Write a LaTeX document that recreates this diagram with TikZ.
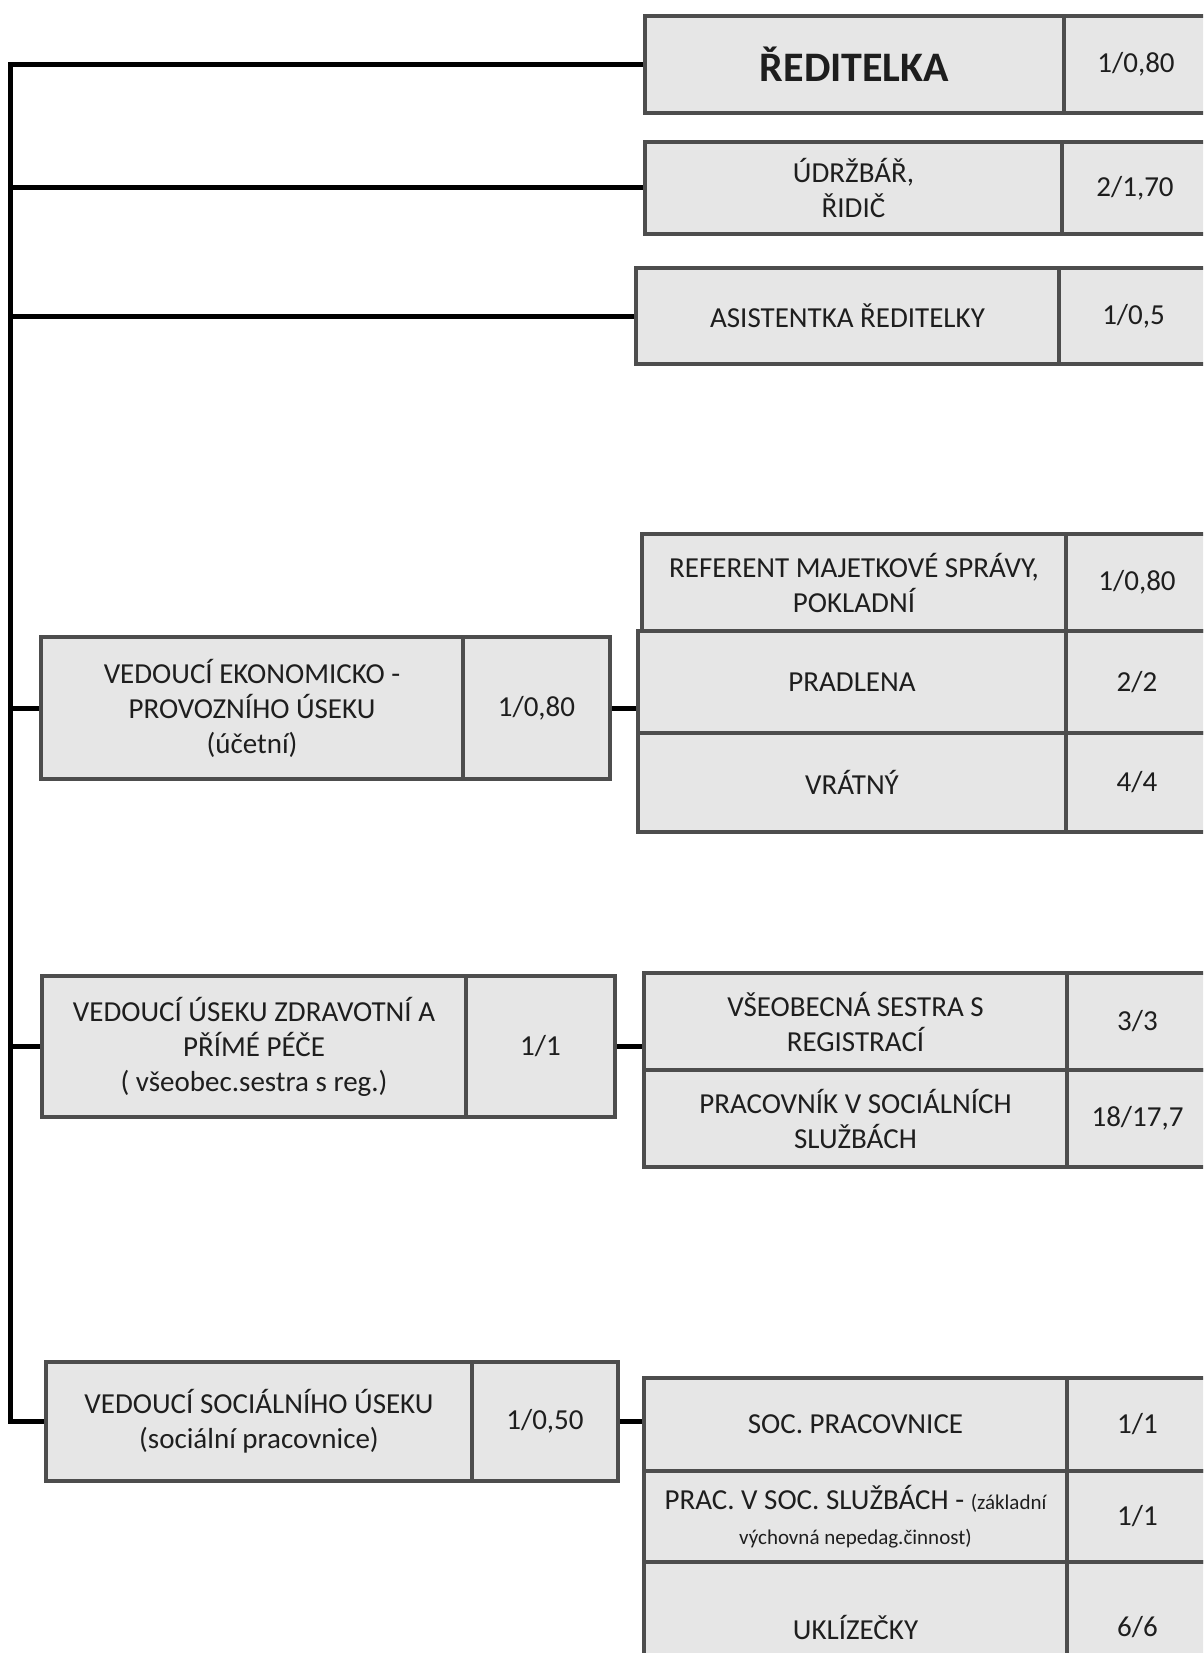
\documentclass[tikz,border=0pt]{standalone}
\usepackage{fontspec}
\setmainfont{Carlito}
\definecolor{boxfill}{HTML}{E6E6E6}
\definecolor{boxline}{HTML}{4D4D4D}
\definecolor{txt}{HTML}{1E1E1E}
\newcommand\cellbox[7][]{\node[cell,#1,minimum width={#4-#2},minimum height={#5-#3}] (#6) at (#2,#3) {#7};}
\newcommand\smalltxt{\fontsize{21}{33}\selectfont}
\begin{document}
\begin{tikzpicture}[x=1pt,y=-1pt,
  cell/.style={draw=boxline,fill=boxfill,line width=4pt,inner sep=0pt,anchor=north west,
    align=center,text=txt,font=\fontsize{29}{35}\selectfont},
  boss/.style={font=\fontsize{42}{50}\selectfont\bfseries},
  link/.style={line width=5pt,draw=black,line join=miter}]
\useasboundingbox (0,0) rectangle (1203,1653);
\clip (0,0) rectangle (1203,1653);
\fill[white] (0,0) rectangle (1203,1653);
% top row boxes
\cellbox[boss]{643}{14}{1062}{111}{r1l}{ŘEDITELKA}
\cellbox{1062}{14}{1206}{111}{r1n}{1/0,80}
\cellbox{643}{140}{1060}{232}{r2l}{ÚDRŽBÁŘ,\\ŘIDIČ}
\cellbox{1060}{140}{1206}{232}{r2n}{2/1,70}
\cellbox{634}{266}{1057}{362}{r3l}{ASISTENTKA ŘEDITELKY}
\cellbox{1057}{266}{1206}{362}{r3n}{1/0,5}
% economic section
\cellbox{39}{635}{461}{777}{ve1l}{VEDOUCÍ EKONOMICKO -\\PROVOZNÍHO ÚSEKU\\(účetní)}
\cellbox{461}{635}{608}{777}{ve1n}{1/0,80}
\cellbox{640}{532}{1064}{629}{refl}{REFERENT MAJETKOVÉ SPRÁVY,\\POKLADNÍ}
\cellbox{1064}{532}{1206}{629}{refn}{1/0,80}
\cellbox{636}{629}{1064}{731}{pradl}{PRADLENA}
\cellbox{1064}{629}{1206}{731}{pradn}{2/2}
\cellbox{636}{731}{1064}{830}{vratl}{VRÁTNÝ}
\cellbox{1064}{731}{1206}{830}{vratn}{4/4}
% health section
\cellbox{40}{974}{464}{1115}{ve2l}{VEDOUCÍ ÚSEKU ZDRAVOTNÍ A\\PŘÍMÉ PÉČE\\( všeobec.sestra s reg.)}
\cellbox{464}{974}{613}{1115}{ve2n}{1/1}
\cellbox{642}{971}{1065}{1068}{vseol}{VŠEOBECNÁ SESTRA S\\REGISTRACÍ}
\cellbox{1065}{971}{1206}{1068}{vseon}{3/3}
\cellbox{642}{1068}{1065}{1165}{pracl}{PRACOVNÍK V SOCIÁLNÍCH\\SLUŽBÁCH}
\cellbox{1065}{1068}{1206}{1165}{pracn}{18/17,7}
% social section
\cellbox{44}{1360}{470}{1479}{ve3l}{VEDOUCÍ SOCIÁLNÍHO ÚSEKU\\(sociální pracovnice)}
\cellbox{470}{1360}{616}{1479}{ve3n}{1/0,50}
\cellbox{642}{1376}{1065}{1469}{socl}{SOC. PRACOVNICE}
\cellbox{1065}{1376}{1206}{1469}{socn}{1/1}
\cellbox{642}{1469}{1065}{1560}{pssl}{PRAC. V SOC. SLUŽBÁCH - {\smalltxt(základní}\\{\smalltxt výchovná nepedag.činnost)}}
\cellbox{1065}{1469}{1206}{1560}{pssn}{1/1}
\cellbox{642}{1560}{1065}{1690}{ukll}{UKLÍZEČKY}
\cellbox{1065}{1560}{1206}{1690}{ukln}{6/6}
% connectors
\coordinate (spine) at (10,63);
\draw[link] (r1l.west) -- (r1l.west -| spine) |- (ve3l.west);
\draw[link] (r2l.west) -- (r2l.west -| spine);
\draw[link] (r3l.west) -- (r3l.west -| spine);
\draw[link] (ve1l.west) -- (ve1l.west -| spine);
\draw[link] (ve2l.west) -- (ve2l.west -| spine);
\draw[link] (ve1n.east) -- (ve1n.east -| pradl.west);
\draw[link] (ve2n.east) -- (ve2n.east -| vseol.west);
\draw[link] (ve3n.east) -- (ve3n.east -| socl.west);
\end{tikzpicture}
\end{document}
